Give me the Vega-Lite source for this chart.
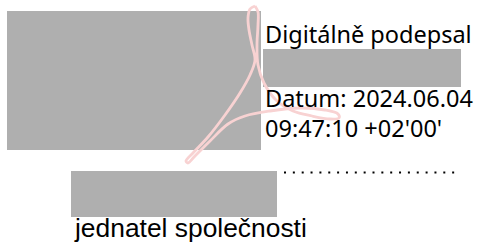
{
  "$schema": "https://vega.github.io/schema/vega-lite/v6.json",
  "width": 477,
  "height": 247,
  "padding": 0,
  "autosize": "none",
  "background": "white",
  "view": {"stroke": null},
  "layer": [
    {
      "data": {"values": [
        {"x": 7, "x2": 261, "y": 11, "y2": 150},
        {"x": 263, "x2": 461, "y": 49, "y2": 87},
        {"x": 71, "x2": 277, "y": 171, "y2": 217}
      ]},
      "mark": {"type": "rect", "fill": "#afafaf"},
      "encoding": {
        "x": {"field": "x", "type": "quantitative", "scale": {"domain": [0, 477], "nice": false, "zero": false}, "axis": null},
        "x2": {"field": "x2"},
        "y": {"field": "y", "type": "quantitative", "scale": {"domain": [0, 247], "nice": false, "zero": false, "reverse": true}, "axis": null},
        "y2": {"field": "y2"}
      }
    },
    {
      "data": {"values": [
        {"i": 1, "x": 255, "y": 6}, {"i": 2, "x": 250, "y": 9}, {"i": 3, "x": 248, "y": 18},
        {"i": 4, "x": 249, "y": 30}, {"i": 5, "x": 252, "y": 45}, {"i": 6, "x": 255, "y": 60},
        {"i": 7, "x": 250, "y": 75}, {"i": 8, "x": 240, "y": 93}, {"i": 9, "x": 225, "y": 115},
        {"i": 10, "x": 208, "y": 137}, {"i": 11, "x": 193, "y": 153}, {"i": 12, "x": 186, "y": 161},
        {"i": 13, "x": 188, "y": 163}, {"i": 14, "x": 195, "y": 156}, {"i": 15, "x": 210, "y": 141},
        {"i": 16, "x": 228, "y": 124}, {"i": 17, "x": 245, "y": 116}, {"i": 18, "x": 270, "y": 111},
        {"i": 19, "x": 300, "y": 108}, {"i": 20, "x": 325, "y": 110}, {"i": 21, "x": 338, "y": 114},
        {"i": 22, "x": 339, "y": 118}, {"i": 23, "x": 330, "y": 119}, {"i": 24, "x": 312, "y": 116},
        {"i": 25, "x": 293, "y": 111}, {"i": 26, "x": 276, "y": 100}, {"i": 27, "x": 264, "y": 83},
        {"i": 28, "x": 258, "y": 65}, {"i": 29, "x": 257, "y": 45}, {"i": 30, "x": 258, "y": 25},
        {"i": 31, "x": 258, "y": 12}, {"i": 32, "x": 255, "y": 6}
      ]},
      "mark": {"type": "line", "interpolate": "catmull-rom", "stroke": "#f8d2d2", "strokeWidth": 2.8},
      "encoding": {
        "x": {"field": "x", "type": "quantitative"},
        "y": {"field": "y", "type": "quantitative"},
        "order": {"field": "i", "type": "quantitative"}
      }
    },
    {
      "data": {"values": [
        {"x": 265, "y": 43, "t": "Digitálně podepsal"},
        {"x": 265, "y": 107, "t": "Datum: 2024.06.04"},
        {"x": 265, "y": 137, "t": "09:47:10 +02'00'"}
      ]},
      "mark": {"type": "text", "align": "left", "baseline": "alphabetic", "font": "Noto Sans", "fontSize": 23.5, "color": "#000000"},
      "encoding": {
        "x": {"field": "x", "type": "quantitative"},
        "y": {"field": "y", "type": "quantitative"},
        "text": {"field": "t"}
      }
    },
    {
      "data": {"values": [{"x": 75, "y": 237, "t": "jednatel společnosti"}]},
      "mark": {"type": "text", "align": "left", "baseline": "alphabetic", "font": "Liberation Sans", "fontSize": 26.4, "color": "#000000"},
      "encoding": {
        "x": {"field": "x", "type": "quantitative"},
        "y": {"field": "y", "type": "quantitative"},
        "text": {"field": "t"}
      }
    },
    {
      "data": {"values": [{"x": 284, "x2": 456, "y": 172.5}]},
      "mark": {"type": "rule", "stroke": "#000000", "strokeWidth": 2, "strokeDash": [2, 6.85]},
      "encoding": {
        "x": {"field": "x", "type": "quantitative"},
        "x2": {"field": "x2"},
        "y": {"field": "y", "type": "quantitative"}
      }
    }
  ]
}
